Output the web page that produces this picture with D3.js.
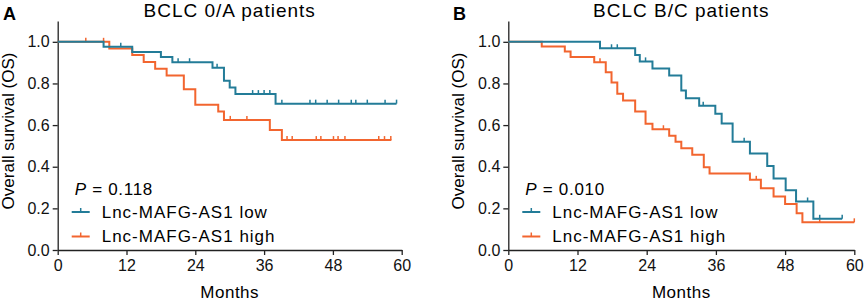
<!DOCTYPE html>
<html>
<head>
  <meta charset="UTF-8">
  <title>BCLC survival</title>
  <script src="https://d3js.org/d3.v7.min.js"></script>
  <style>
    body { margin: 0; padding: 0; background: #fff; }
    svg { font-family: "Liberation Sans", Arial, sans-serif; }
    .axis path, .axis line { stroke: #222; stroke-width: 1.3px; }
    .axis text { font-size: 16px; fill: #111; }
  </style>
</head>
<body>
<svg id="chart" width="864" height="303"></svg>
<script>
  // Panel A: BCLC 0/A
  var aLowTimes = [0, 8, 13, 18, 20, 27, 29, 30, 31, 38];
  var aLowSurv = [1, 0.976, 0.951, 0.927, 0.902, 0.876, 0.813, 0.781, 0.749, 0.703];
  var aLowEnd = 59.1;
  var aLowCensor = [11, 21, 23, 27.8, 34, 35, 36, 37, 39.1, 44, 45, 47, 49, 51.2, 52, 54, 57.1, 59.1];

  var aHighTimes = [0, 9, 13, 15, 17, 19, 22, 24, 28, 29, 37, 39.1];
  var aHighSurv = [1, 0.968, 0.937, 0.903, 0.871, 0.838, 0.772, 0.698, 0.665, 0.625, 0.577, 0.528];
  var aHighEnd = 58.2;
  var aHighCensor = [4.9, 8, 30.1, 33, 40, 40.9, 45.1, 45.9, 48.1, 48.9, 50.1, 56, 57, 58.1];

  // Panel B: BCLC B/C
  var bLowTimes = [0, 15.9, 22, 22.8, 25, 27.9, 30, 30.8, 33.1, 35.9, 37, 38.9, 41.9, 44.9, 46, 48.1, 49.9, 52.9];
  var bLowSurv = [1, 0.969, 0.937, 0.906, 0.872, 0.838, 0.766, 0.729, 0.693, 0.654, 0.608, 0.52, 0.463, 0.403, 0.344, 0.287, 0.233, 0.15];
  var bLowEnd = 57.9;
  var bLowCensor = [17.9, 18.9, 23.8, 33.8, 40.9, 51.9, 54, 57.9];

  var bHighTimes = [0, 5.8, 9.8, 10.8, 14.9, 16.9, 17.9, 18.9, 19.9, 22, 23.8, 25, 27.9, 29, 30, 31.9, 33.9, 34.9, 41.9, 43.8, 46, 48, 50, 51];
  var bHighSurv = [1, 0.977, 0.953, 0.927, 0.902, 0.854, 0.804, 0.75, 0.718, 0.665, 0.607, 0.58, 0.549, 0.52, 0.489, 0.458, 0.397, 0.367, 0.337, 0.297, 0.257, 0.221, 0.176, 0.133];
  var bHighEnd = 60;
  var bHighCensor = [15.9, 26.9, 43, 54, 60];

  var xTicks = [0, 12, 24, 36, 48, 60];
  var yTicks = [0, 0.2, 0.4, 0.6, 0.8, 1.0];
  var lowColor = "#237c98";
  var highColor = "#f2652f";

  var panels = [
    { letter: "A", title: "BCLC 0/A patients", pval: "0.118", left: 57.7, right: 401.7, labelX: 8, letterX: 3,
      low: { t: aLowTimes, s: aLowSurv, end: aLowEnd, c: aLowCensor },
      high: { t: aHighTimes, s: aHighSurv, end: aHighEnd, c: aHighCensor } },
    { letter: "B", title: "BCLC B/C patients", pval: "0.010", left: 508.3, right: 854.3, labelX: 458, letterX: 453,
      low: { t: bLowTimes, s: bLowSurv, end: bLowEnd, c: bLowCensor },
      high: { t: bHighTimes, s: bHighSurv, end: bHighEnd, c: bHighCensor } }
  ];

  var svg = d3.select("#chart");

  // valeur de survie au temps t
  function survAt(curve, t) {
    var v = curve.s[0];
    for (var i = 0; i < curve.t.length; i++) {
      if (curve.t[i] <= t) v = curve.s[i];
    }
    return v;
  }

  panels.forEach(function (p) {
    var x = d3.scaleLinear().domain([0, 60]).range([p.left, p.right]);
    var y = d3.scaleLinear().domain([0, 1.1]).range([250, 21]);
    var g = svg.append("g");

    g.append("g")
      .attr("class", "axis")
      .attr("transform", "translate(0,250)")
      .call(d3.axisBottom(x).tickValues(xTicks).tickSize(5).tickPadding(5).tickSizeOuter(0));

    g.append("g")
      .attr("class", "axis")
      .attr("transform", "translate(" + p.left + ",0)")
      .call(d3.axisLeft(y).tickValues(yTicks).tickFormat(d3.format(".1f")).tickSize(5).tickPadding(3).tickSizeOuter(0));

    // titre et lettre
    g.append("text")
      .attr("x", (p.left + p.right) / 2)
      .attr("y", 17)
      .attr("text-anchor", "middle")
      .style("font-size", "19px")
      .style("letter-spacing", "1px")
      .text(p.title);

    g.append("text")
      .attr("x", p.letterX)
      .attr("y", 20)
      .style("font-size", "18px")
      .style("font-weight", "bold")
      .text(p.letter);

    g.append("text")
      .attr("x", (p.left + p.right) / 2)
      .attr("y", 298)
      .attr("text-anchor", "middle")
      .style("font-size", "17px")
      .style("letter-spacing", "0.5px")
      .text("Months");

    g.append("text")
      .attr("transform", "translate(" + (p.labelX + 6) + ",131) rotate(-90)")
      .attr("text-anchor", "middle")
      .style("font-size", "17px")
      .text("Overall survival (OS)");

    var line = d3.line()
      .x(function (d) { return x(d[0]); })
      .y(function (d) { return y(d[1]); })
      .curve(d3.curveStepAfter);

    [["high", highColor], ["low", lowColor]].forEach(function (pair) {
      var c = p[pair[0]];
      var pts = c.t.map(function (t, i) { return [t, c.s[i]]; });
      pts.push([c.end, c.s[c.s.length - 1]]);
      g.append("path")
        .attr("d", line(pts))
        .attr("fill", "none")
        .attr("stroke", pair[1])
        .attr("stroke-width", 2);

      g.selectAll(null)
        .data(c.c)
        .enter()
        .append("line")
        .attr("x1", function (d) { return x(d); })
        .attr("x2", function (d) { return x(d); })
        .attr("y1", function (d) { return y(survAt(c, d)); })
        .attr("y2", function (d) { return y(survAt(c, d)) - 4; })
        .attr("stroke", pair[1])
        .attr("stroke-width", 1.5);
    });

    // légende
    var lx = p.left + 14;
    g.append("text")
      .attr("x", lx + 3)
      .attr("y", 195)
      .style("font-size", "17px")
      .style("letter-spacing", "0.7px")
      .html('<tspan font-style="italic">P</tspan> = ' + p.pval);

    [["Lnc-MAFG-AS1 low", lowColor, 212], ["Lnc-MAFG-AS1 high", highColor, 236.5]].forEach(function (it) {
      g.append("line")
        .attr("x1", lx).attr("x2", lx + 18)
        .attr("y1", it[2]).attr("y2", it[2])
        .attr("stroke", it[1]).attr("stroke-width", 2);
      g.append("line")
        .attr("x1", lx + 9).attr("x2", lx + 9)
        .attr("y1", it[2]).attr("y2", it[2] - 4)
        .attr("stroke", it[1]).attr("stroke-width", 1.5);
      g.append("text")
        .attr("x", lx + 30)
        .attr("y", it[2] + 5.5)
        .style("font-size", "17px")
        .style("letter-spacing", "1px")
        .text(it[0]);
    });
  });
</script>
</body>
</html>
